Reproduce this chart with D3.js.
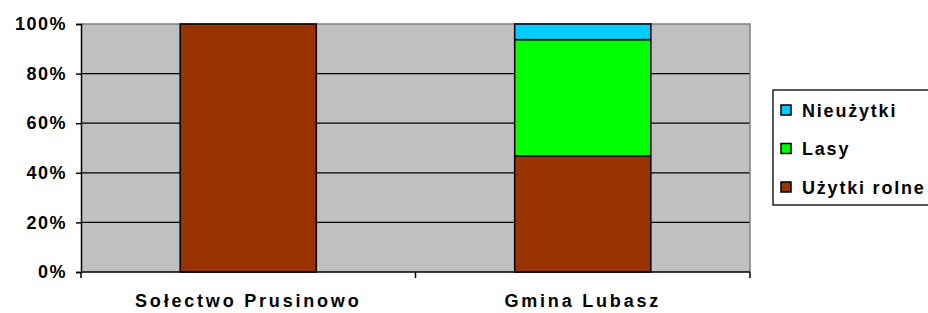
<!DOCTYPE html>
<html>
<head>
<meta charset="utf-8">
<script src="https://cdn.jsdelivr.net/npm/d3@7"></script>
<style>
  body { margin: 0; background: #fff; }
  svg { display: block; font-family: "Liberation Sans", Arial, sans-serif; font-weight: bold; }
</style>
</head>
<body>
<svg id="chart" width="928" height="313"></svg>
<script>
// data (percent of area)
const categories  = ["Sołectwo Prusinowo", "Gmina Lubasz"];
const seriesNames = ["Użytki rolne", "Lasy", "Nieużytki"];
const uzytkiRolne = [100, 46.8];
const lasy        = [0, 46.9];
const nieuzytki   = [0, 6.3];
const yTicks      = [0, 20, 40, 60, 80, 100];

const colors = {"Użytki rolne": "#993300", "Lasy": "#00ff00", "Nieużytki": "#00ccff"};

const rows = categories.map((c, i) => ({
  cat: c,
  "Użytki rolne": uzytkiRolne[i],
  "Lasy": lasy[i],
  "Nieużytki": nieuzytki[i]
}));

const svg = d3.select("#chart"),
      m   = {top: 24, left: 81, right: 178, bottom: 41},
      W   = +svg.attr("width"),
      H   = +svg.attr("height"),
      iw  = W - m.left - m.right,
      ih  = H - m.top - m.bottom;

const x = d3.scaleBand()
    .domain(categories)
    .range([0, iw])
    .paddingInner(0.593)
    .paddingOuter(0.2965);

const xCat = d3.scaleBand().domain(categories).range([0, iw]);

const y = d3.scaleLinear().domain([0, 100]).range([ih, 0]);

const g = svg.append("g").attr("transform", `translate(${m.left},${m.top})`);

// plot area
g.append("rect")
  .attr("width", iw).attr("height", ih)
  .attr("fill", "#c0c0c0");

// gridlines
g.append("g").selectAll("line")
  .data(yTicks.slice(1, -1)).enter().append("line")
    .attr("x1", 0).attr("x2", iw)
    .attr("y1", d => y(d)).attr("y2", d => y(d))
    .attr("stroke", "#000").attr("stroke-width", 1.3);

// gray border top / right
g.append("path")
  .attr("d", `M0,${y(100)}H${iw}V${ih}`)
  .attr("fill", "none").attr("stroke", "#808080").attr("stroke-width", 1.5);

// stacked bars
const stack = d3.stack().keys(seriesNames)(rows);
g.append("g").selectAll("g")
  .data(stack).enter().append("g")
    .attr("fill", d => colors[d.key])
  .selectAll("rect")
  .data(d => d.filter(p => p[1] - p[0] > 0)).enter().append("rect")
    .attr("x", d => x(d.data.cat))
    .attr("y", d => y(d[1]))
    .attr("width", x.bandwidth())
    .attr("height", d => y(d[0]) - y(d[1]))
    .attr("stroke", "#000").attr("stroke-width", 1.5);

// y axis
const yAxis = g.append("g")
  .call(d3.axisLeft(y).tickValues(yTicks).tickFormat(d => d + "%").tickSize(5).tickPadding(10));
yAxis.select(".domain").attr("stroke", "#000").attr("stroke-width", 1.5);
yAxis.selectAll(".tick line").attr("stroke", "#000").attr("stroke-width", 1.5);
yAxis.selectAll("text")
  .attr("fill", "#000")
  .attr("font-family", null)
  .attr("font-size", null)
  .style("font-size", "18px")
  .style("font-weight", "bold")
  .style("letter-spacing", "1.5px")
  .attr("dx", "1px");

// x axis (ticks at category boundaries)
const xAxisG = g.append("g").attr("transform", `translate(0,${ih})`);
xAxisG.append("line")
  .attr("x1", 0).attr("x2", iw)
  .attr("stroke", "#000").attr("stroke-width", 1.5);
xAxisG.selectAll(".bt")
  .data([0, ...categories.map(c => xCat(c) + xCat.bandwidth())]).enter().append("line")
    .attr("x1", d => d).attr("x2", d => d)
    .attr("y1", 0).attr("y2", 6)
    .attr("stroke", "#000").attr("stroke-width", 1.5);
xAxisG.selectAll("text")
  .data(categories).enter().append("text")
    .attr("x", d => xCat(d) + xCat.bandwidth() / 2)
    .attr("y", 35)
    .attr("text-anchor", "middle")
    .style("font-size", "18px")
    .style("letter-spacing", "2.8px")
    .text(d => d);

// legend
const legend = svg.append("g").attr("transform", "translate(773,90)");
legend.append("rect")
  .attr("width", 170).attr("height", 115)
  .attr("fill", "#fff").attr("stroke", "#000").attr("stroke-width", 1.3);

const legendItems = seriesNames.slice().reverse();
legendItems.forEach((name, i) => {
  const row = legend.append("g").attr("transform", `translate(8,${20 + i * 38.5})`);
  row.append("rect")
    .attr("x", 0).attr("y", -5)
    .attr("width", 10).attr("height", 10)
    .attr("fill", colors[name]).attr("stroke", "#000").attr("stroke-width", 1.5);
  row.append("text")
    .attr("x", 21).attr("y", 6.5)
    .style("font-size", "18px")
    .style("letter-spacing", "1.8px")
    .text(name);
});
</script>
</body>
</html>
